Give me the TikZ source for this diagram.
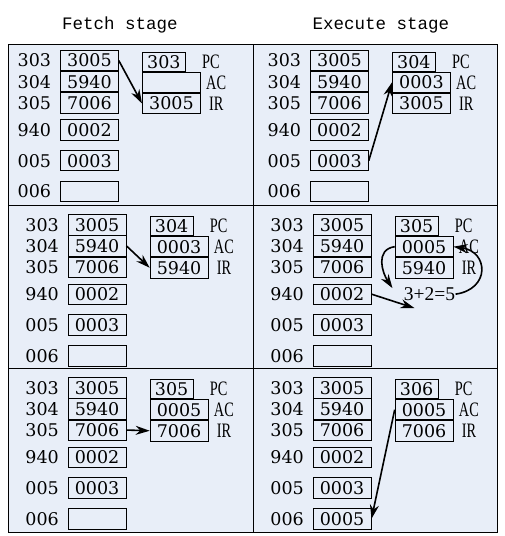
\documentclass[tikz,border=0pt]{standalone}
\usepackage{fontspec}
\setmainfont{DejaVu Serif}
\newfontfamily\labfont[FakeStretch=0.7]{Liberation Serif}
\newfontfamily\sumfont{Liberation Serif}
\newfontfamily\headfont{Liberation Mono}
\usetikzlibrary{positioning,arrows.meta}
\definecolor{panelbg}{RGB}{232,238,248}

\begin{document}
\begin{tikzpicture}[
  x=1pt, y=-1pt, line width=.8pt,
  cell/.style={draw,minimum width=58pt,minimum height=20.3pt,inner sep=0pt,font=\fontsize{17.5}{18}\selectfont},
  pcbox/.style={cell,minimum width=43pt,minimum height=19pt},
  reg/.style={cell,minimum width=58pt},
  addr/.style={inner sep=0pt,font=\fontsize{17.5}{18}\selectfont},
  lab/.style={inner sep=0pt,font=\labfont\fontsize{20.5}{21}\selectfont},
  sumtext/.style={inner sep=0pt,font=\sumfont\fontsize{19.5}{20}\selectfont},
  head/.style={font=\headfont\fontsize{17.5}{18}\selectfont},
  arr/.style={-{Stealth[length=14pt,width=9pt]},line width=1.6pt}
]
  \useasboundingbox (0,0) rectangle (505,536);
  \fill[panelbg] (8,44) rectangle (497,532);
  \draw[line width=1pt] (8,44) rectangle (497,532) (253.5,44) -- (253.5,532)
    (8,205.7) -- (497,205.7) (8,368.2) -- (497,368.2);
  \node[head] (hfetch) at (120,25) {Fetch stage};
  \node[head] (hexec) at (381,25) {Execute stage};
  % one panel: memory on the left, registers on the right
  \foreach \p/\mx/\my/\pc/\ac/\ir/\six in {
    a/60/50/303/{}/3005/{}, b/310/50/304/0003/3005/{},
    c/67.7/214.3/304/0003/5940/{}, d/312.7/214.3/305/0005/5940/{},
    e/67.7/377.3/305/0005/7006/{}, f/312.7/377.3/306/0005/7006/0005}{
    \node[cell,anchor=north west] (\p303) at (\mx,\my) {3005};
    \node[cell,below=0pt of \p303] (\p304) {5940};
    \node[cell,below=0pt of \p304] (\p305) {7006};
    \node[cell,below=6pt of \p305] (\p940) {0002};
    \node[cell,below=9.7pt of \p940] (\p005) {0003};
    \node[cell,below=9.7pt of \p005] (\p006) {\six};
    \foreach \a in {303,304,305,940,005,006}
      \node[addr,left=8.5pt of \p\a] (\p\a l) {\a};
    \node[pcbox,anchor=north west] (\p pc) at (\mx+82,\my+2) {\pc};
    \node[reg,anchor=north west] (\p ac) at (\p pc.south west) {\ac};
    \node[reg,below=0pt of \p ac] (\p ir) {\ir};
    \node[lab,right=16pt of \p pc] (\p pcl) {PC};
    \node[lab,right=5pt of \p ac] (\p acl) {AC};
    \node[lab,right=8pt of \p ir] (\p irl) {IR};
  }
  \draw[arr] (a303.east) -- (air.west);
  \draw[arr] (b005.east) -- (bac.west);
  \draw[arr] (c304.east) -- (cir.west);
  \node[sumtext,right=32pt of d940] (dsum) {3+2=5};
  \coordinate (dtip) at ([xshift=11pt,yshift=-7pt]dsum.south west);
  \coordinate (dback) at ([xshift=-11pt,yshift=6pt]dsum.west);
  \draw[arr] (d940.east) -- (dtip);
  \draw[arr] (dac.west) .. controls +(-20,3) and +(-10,-15) .. (dback);
  \draw[arr] (dsum.east) .. controls +(35,-5) and +(35,5) .. (dac.east);
  \draw[arr] (e305.east) -- (eir.west);
  \draw[arr] (fac.west) -- (f006.east);
\end{tikzpicture}
\end{document}
